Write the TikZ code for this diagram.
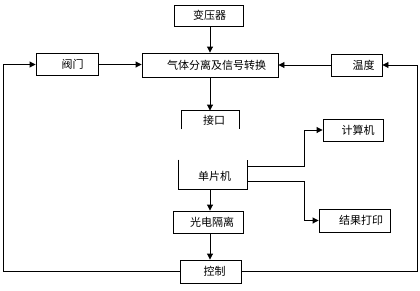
\documentclass[tikz,border=0pt]{standalone}
\usepackage{fontspec}
\setmainfont{Noto Sans CJK SC}
\usetikzlibrary{arrows.meta}
\begin{document}
\begin{tikzpicture}[x=1pt,y=-1pt,line width=0.9pt,
  txt/.style={font=\fontsize{11}{13}\selectfont},
  box/.style={draw,rectangle,inner sep=0pt,txt},
  ghost/.style={rectangle,inner sep=0pt,txt},
  arr/.style={-{Triangle[length=6pt,width=6pt]}}]
\useasboundingbox (0,0) rectangle (420,290);
\node[box,minimum width=69pt,minimum height=21pt] (byq) at (208.5,15.5) {\hspace*{2pt}变压器};
\node[box,minimum width=136pt,minimum height=24pt] (main) at (210,65) {\hspace*{13pt}气体分离及信号转换};
\node[box,minimum width=62pt,minimum height=22pt] (fm) at (67,64.5) {\hspace*{11pt}阀门};
\node[box,minimum width=51pt,minimum height=22pt] (wd) at (356.5,65) {\hspace*{14pt}温度};
\node[ghost,minimum width=57pt,minimum height=18pt] (jk) at (210.5,120) {\hspace*{7pt}接口};
\node[ghost,minimum width=68pt,minimum height=29pt] (dpj) at (213,174.5) {};
\node[txt] (dpjt) at (214.5,176) {单片机};
\node[box,minimum width=70pt,minimum height=22pt] (gd) at (208,222) {\hspace*{8pt}光电隔离};
\node[box,minimum width=61pt,minimum height=23pt] (kz) at (210.5,271.5) {\hspace*{8pt}控制};
\node[box,minimum width=60pt,minimum height=22pt] (jsj) at (353,130) {\hspace*{10pt}计算机};
\node[box,minimum width=71pt,minimum height=23pt] (jg) at (354.5,220.5) {\hspace*{13pt}结果打印};
\draw (jk.south west) -- (jk.north west) -- (jk.north east) -- (jk.south east);
\draw (dpj.north west) -- (dpj.south west) -- (dpj.south east) -- (dpj.north east);
\coordinate (L) at (3.5,0);
\coordinate (R) at (417.5,0);
\coordinate (b1) at (304,166);
\coordinate (b2) at (304,181);
\draw[arr] (main.north |- byq.south) -- (main.north);
\draw[arr] (fm.east) -- (fm.east -| main.west);
\draw[arr] (wd.west) -- (wd.west -| main.east);
\draw[arr] (main.south) -- (main.south |- jk.north);
\draw[arr] (dpj.south -| main.south) -- (gd.north -| main.south);
\draw[arr] (gd.south -| main.south) -- (kz.north -| main.south);
\draw[arr] (kz.west) -| (L |- fm.west) -- (fm.west);
\draw[arr] (kz.east) -| (R |- wd.east) -- (wd.east);
\draw[arr] (b1 -| dpj.east) -- (b1) |- (jsj.west);
\draw[arr] (b2 -| dpj.east) -- (b2) |- (jg.west);
\end{tikzpicture}
\end{document}
